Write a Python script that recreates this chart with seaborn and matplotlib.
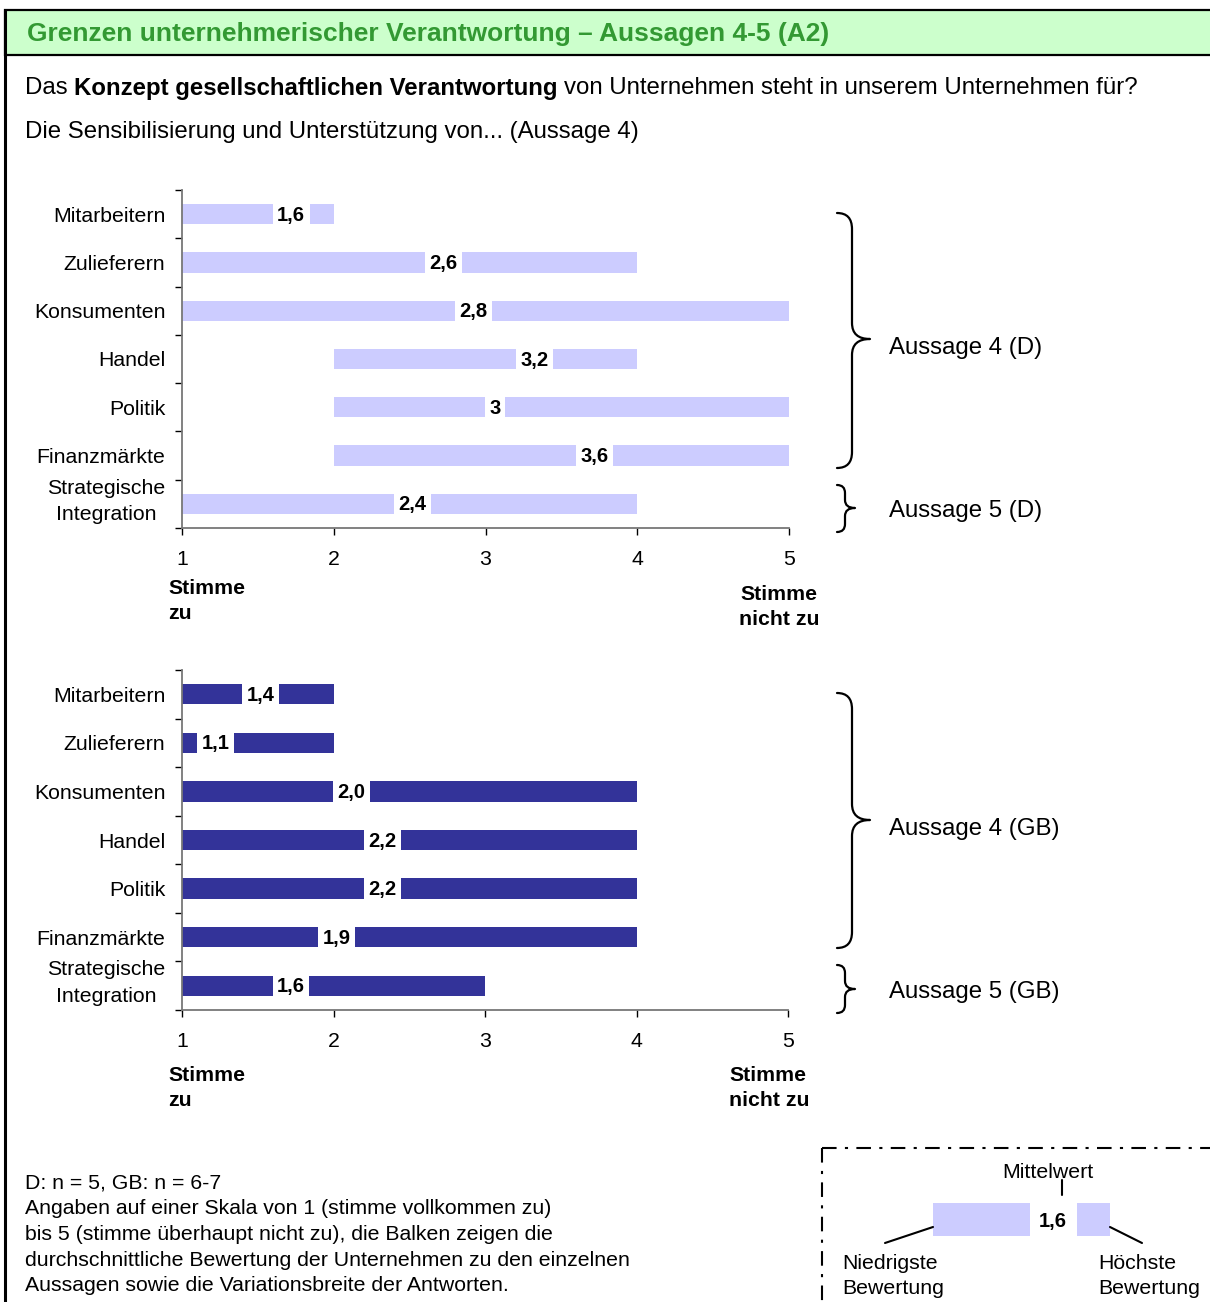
import matplotlib
matplotlib.use("Agg")
import matplotlib.pyplot as plt
from matplotlib.path import Path
from matplotlib.patches import PathPatch, Rectangle
from matplotlib.lines import Line2D
from matplotlib.transforms import ScaledTranslation
import pandas as pd
import seaborn as sns

# ---- data -------------------------------------------------------------
categories = ["Mitarbeitern", "Zulieferern", "Konsumenten", "Handel",
              "Politik", "Finanzmärkte", "Strategische\nIntegration"]

d_min = [1, 1, 1, 2, 2, 2, 1]
d_max = [2, 4, 5, 4, 5, 5, 4]
d_mean = [1.6, 2.6, 2.8, 3.2, 3.0, 3.6, 2.4]
d_labels = ["1,6", "2,6", "2,8", "3,2", "3", "3,6", "2,4"]

gb_min = [1, 1, 1, 1, 1, 1, 1]
gb_max = [2, 2, 4, 4, 4, 4, 3]
gb_mean = [1.4, 1.1, 2.0, 2.2, 2.2, 1.9, 1.6]
gb_labels = ["1,4", "1,1", "2,0", "2,2", "2,2", "1,9", "1,6"]

x_ticks = [1, 2, 3, 4, 5]

LIGHT = "#CCCCFF"
DARK = "#333399"
GREEN_BG = "#CCFFCC"
GREEN_TXT = "#339933"

# ---- style ------------------------------------------------------------
sns.set_theme(style="white")
plt.rcParams["font.family"] = ["Liberation Sans", "DejaVu Sans"]
plt.rcParams["text.color"] = "black"
plt.rcParams["xtick.color"] = "black"
plt.rcParams["ytick.color"] = "black"
plt.rcParams["axes.labelcolor"] = "black"

W, H = 1210, 1302
fig = plt.figure(figsize=(W / 100, H / 100), dpi=100)

# full-page layer in pixel units for page furniture
page = fig.add_axes([0, 0, 1, 1])
page.set_xlim(0, W)
page.set_ylim(H, 0)
page.axis("off")
page.set_zorder(-5)


def range_chart(rect, mins, maxs, means, labels, color):
    ax = fig.add_axes(rect)
    df = pd.DataFrame({"cat": categories,
                       "span": [b - a for a, b in zip(mins, maxs)]})
    sns.barplot(data=df, y="cat", x="span", order=categories, orient="y",
                color=color, saturation=1, width=0.42, errorbar=None,
                left=mins, edgecolor="none", linewidth=0, ax=ax)
    ax.set_xlim(1, 5)
    ax.set_ylim(len(categories) - 0.5, -0.5)
    ax.set_xlabel("")
    ax.set_ylabel("")
    ax.set_xticks(x_ticks)
    ax.set_xticklabels([str(t) for t in x_ticks])
    ax.set_yticks(range(len(categories)))
    ax.set_yticks([i - 0.5 for i in range(len(categories) + 1)], minor=True)
    ax.set_yticklabels(categories, fontsize=15.3)
    ax.tick_params(axis="y", which="major", length=0, pad=12)
    ax.tick_params(axis="y", which="minor", length=5, width=1, color="black",
                   direction="out", left=True)
    ax.tick_params(axis="x", which="major", length=5, width=1, color="black",
                   direction="out", bottom=True, labelsize=15.3, pad=10.5)
    ylabels = ax.get_yticklabels()
    for t in ylabels:
        t.set_multialignment("center")
        t.set_linespacing(1.5)
    # two-line category label sits a little higher than its bar
    ylabels[-1].set_transform(ylabels[-1].get_transform()
                              + ScaledTranslation(0, 6 / 72, fig.dpi_scale_trans))
    for side in ("top", "right"):
        ax.spines[side].set_visible(False)
    ax.spines["left"].set_color("#777777")
    ax.spines["bottom"].set_color("#777777")
    ax.spines["left"].set_linewidth(1.3)
    ax.spines["bottom"].set_linewidth(1.3)
    ax.patch.set_alpha(0)
    for i, (m, lab) in enumerate(zip(means, labels)):
        ax.annotate(lab, xy=(m, i), xytext=(3.0, -0.8), textcoords="offset points",
                    ha="left", va="center", fontsize=14.5, fontweight="bold",
                    color="black", zorder=5,
                    bbox=dict(boxstyle="square,pad=0.22", fc="white", ec="none"))
    return ax


range_chart([182 / W, 1 - 528 / H, 607 / W, 338 / H], d_min, d_max, d_mean,
            d_labels, LIGHT)
range_chart([182 / W, 1 - 1010 / H, 606 / W, 340 / H], gb_min, gb_max, gb_mean,
            gb_labels, DARK)

# ---- header -----------------------------------------------------------
page.add_patch(Rectangle((5, 10), W + 10, 45, fc=GREEN_BG, ec="black",
                         lw=1.6, clip_on=False))
page.plot([5, 5], [10, H + 5], color="black", lw=2.2, solid_capstyle="butt")
page.text(27, 34, "Grenzen unternehmerischer Verantwortung – Aussagen 4-5 (A2)",
          fontsize=19, fontweight="bold", color=GREEN_TXT, va="center",
          ha="left")

renderer = fig.canvas.get_renderer()


def text_width(s, size, weight):
    t = page.text(0, 0, s, fontsize=size, fontweight=weight)
    w = t.get_window_extent(renderer).width
    t.remove()
    return w


def rich_line(x, y, parts, size):
    space = text_width("a a", size, "normal") - text_width("aa", size, "normal")
    for s, weight in parts:
        page.text(x, y, s, fontsize=size, fontweight=weight, va="center",
                  ha="left")
        x += text_width(s, size, weight) + space


rich_line(25, 88, [("Das", "normal"),
                   ("Konzept gesellschaftlichen Verantwortung", "bold"),
                   ("von Unternehmen steht in unserem Unternehmen für?", "normal")],
          17.3)
page.text(25, 132, "Die Sensibilisierung und Unterstützung von... (Aussage 4)",
          fontsize=17.3, va="center", ha="left")

# ---- axis end captions ------------------------------------------------
cap = dict(fontsize=15.3, fontweight="bold", va="center", linespacing=1.45)
page.text(168, 601, "Stimme\nzu", ha="left", **cap)
page.text(779, 607, "Stimme\nnicht zu", ha="center", multialignment="center", **cap)
page.text(168, 1088, "Stimme\nzu", ha="left", **cap)
page.text(729, 1088, "Stimme\nnicht zu", ha="left", **cap)


# ---- braces -----------------------------------------------------------
def brace(x0, xm, xt, y0, yt, y1, r):
    verts = [(x0, y0), (xm, y0), (xm, y0 + r),
             (xm, yt - r), (xm, yt), (xt, yt),
             (xm, yt), (xm, yt + r),
             (xm, y1 - r), (xm, y1), (x0, y1)]
    codes = [Path.MOVETO, Path.CURVE3, Path.CURVE3,
             Path.LINETO, Path.CURVE3, Path.CURVE3,
             Path.CURVE3, Path.CURVE3,
             Path.LINETO, Path.CURVE3, Path.CURVE3]
    page.add_patch(PathPatch(Path(verts, codes), fc="none", ec="black",
                             lw=1.6, capstyle="round", joinstyle="round"))


brace(837, 852, 870, 213, 339, 468, 16)
brace(837, 845, 855, 485, 508, 532, 8)
brace(837, 852, 870, 693, 820, 948, 16)
brace(837, 845, 855, 965, 989, 1013, 8)

lab = dict(fontsize=17.3, va="center", ha="left")
page.text(889, 348, "Aussage 4 (D)", **lab)
page.text(889, 511, "Aussage 5 (D)", **lab)
page.text(889, 829, "Aussage 4 (GB)", **lab)
page.text(889, 992, "Aussage 5 (GB)", **lab)

# ---- footnote ---------------------------------------------------------
foot = ["D: n = 5, GB: n = 6-7",
        "Angaben auf einer Skala von 1 (stimme vollkommen zu)",
        "bis 5 (stimme überhaupt nicht zu), die Balken zeigen die",
        "durchschnittliche Bewertung der Unternehmen zu den einzelnen",
        "Aussagen sowie die Variationsbreite der Antworten."]
for k, line in enumerate(foot):
    page.text(25, 1183 + k * 25.7, line, fontsize=15.35, va="center", ha="left")

# ---- reading key ------------------------------------------------------
dashdot = (0, (7, 4, 1.5, 4))
page.add_line(Line2D([822, W + 5], [1148, 1148], color="black", lw=1.5,
                     linestyle=dashdot))
page.add_line(Line2D([822, 822], [1148, H + 5], color="black", lw=1.5,
                     linestyle=dashdot))
page.add_patch(Rectangle((933, 1203), 97, 33, fc=LIGHT, ec="none"))
page.add_patch(Rectangle((1077, 1203), 33, 33, fc=LIGHT, ec="none"))
page.text(1039, 1221, "1,6", fontsize=14.5, fontweight="bold", va="center",
          ha="left")
page.text(1002, 1172, "Mittelwert", fontsize=15.3, va="center", ha="left")
page.plot([1062, 1062], [1180, 1195], color="black", lw=1.5)
page.plot([885, 933], [1243, 1227], color="black", lw=1.5)
page.plot([1110, 1142], [1227, 1243], color="black", lw=1.5)
page.text(842, 1276, "Niedrigste\nBewertung", fontsize=15.3, va="center",
          ha="left", linespacing=1.4)
page.text(1098, 1276, "Höchste\nBewertung", fontsize=15.3, va="center",
          ha="left", linespacing=1.4)

fig.savefig("out.png", dpi=100, facecolor="white")
